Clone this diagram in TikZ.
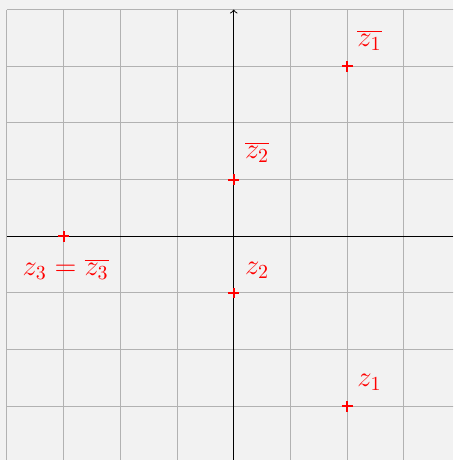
\documentclass[tikz,border=0pt]{standalone}
\usetikzlibrary{positioning}
\tikzset{
gridline/.style={draw=black!30,line width=0.5pt},
axisline/.style={draw=black,line width=0.5pt},
ptmark/.style={draw=red,line width=1pt},
zlabel/.style={text=red,inner sep=0pt,
font=\fontsize{14}{16}\selectfont}
}

\begin{document}
\begin{tikzpicture}
		% canvas
		\fill[black!5] (-4.123,-3.946) rectangle (3.868,4.168);
		\useasboundingbox (-4.123,-3.946) rectangle (3.868,4.168);
		\clip (-4.123,-3.946) rectangle (3.868,4.168);
		\draw[gridline] (-4,-4) grid (4,4);

		\coordinate (W) at (-4,0);
		\coordinate (E) at (3.868,0);
		\coordinate (S) at (0,-3.946);
		\coordinate (N) at (0,4);
		\draw[axisline] (W) -- (E);
		\draw[axisline,->] (S) -- (N);

		\coordinate (z1) at (2,-3);
		\coordinate (z1bar) at (2,3);
		\coordinate (z2) at (0,-1);
		\coordinate (z2bar) at (0,1);
		\coordinate (z3) at (-3,0);

		\foreach \p in {z1,z1bar,z2,z2bar,z3}
		\draw[ptmark] (\p) +(-2.75pt,0) -- +(2.75pt,0) +(0,-2.75pt) -- +(0,2.75pt);

		\node[zlabel,anchor=base west] (lz1) at ([shift={(5pt,10pt)}]z1) {$z_1$};
		\node[zlabel,anchor=base west] (lz1bar) at ([shift={(5pt,10pt)}]z1bar) {$\overline{z_1}$};
		\node[zlabel,anchor=base west] (lz2) at ([shift={(5.5pt,9.5pt)}]z2) {$z_2$};
		\node[zlabel,anchor=base west] (lz2bar) at ([shift={(5.5pt,10.5pt)}]z2bar) {$\overline{z_2}$};
		\node[zlabel,anchor=base] (lz3) at ([shift={(1pt,-19.5pt)}]z3) {$z_3=\overline{z_3}$};

	\end{tikzpicture}
\end{document}
